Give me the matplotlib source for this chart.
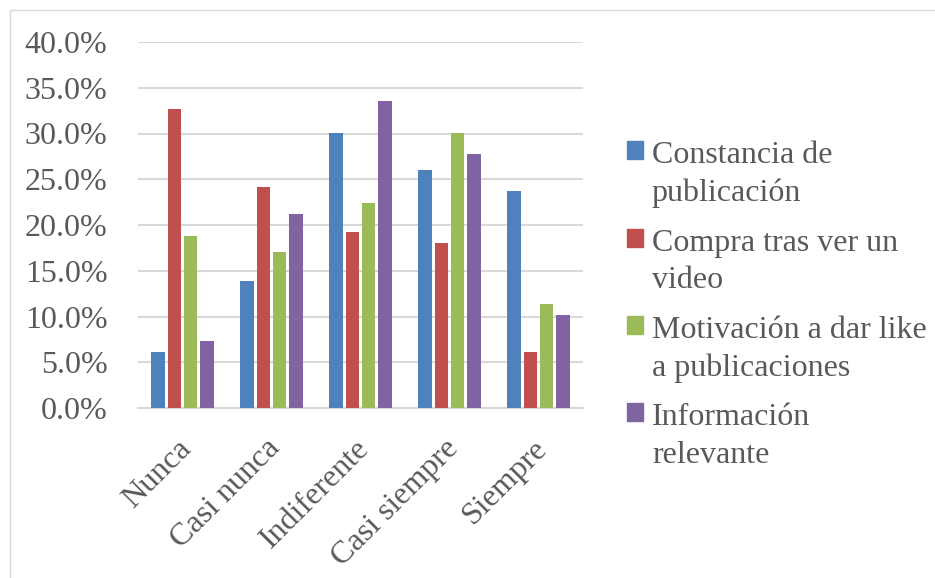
import numpy as np
import matplotlib.pyplot as plt
from matplotlib.patches import Patch, Rectangle
from matplotlib.transforms import ScaledTranslation

plt.rcParams['font.family'] = ['Liberation Serif', 'DejaVu Serif']

categorias = ['Nunca', 'Casi nunca', 'Indiferente', 'Casi siempre', 'Siempre']
series = ['Constancia de\npublicación',
          'Compra tras ver un\nvideo',
          'Motivación a dar like\na publicaciones',
          'Información\nrelevante']
constancia = [6.1, 13.9, 30.1, 26.0, 23.7]
compra = [32.7, 24.1, 19.2, 18.0, 6.1]
motivacion = [18.8, 17.1, 22.4, 30.1, 11.4]
informacion = [7.3, 21.2, 33.5, 27.8, 10.2]
valores = [constancia, compra, motivacion, informacion]
colores = ['#4F81BD', '#C0504D', '#9BBB59', '#8064A2']

gris = '#595959'
fs = 23
fig = plt.figure(figsize=(9.35, 5.78), dpi=100)
ax = fig.add_axes([138 / 935, 1 - 408 / 578, 445 / 935, 366 / 578])

x = np.arange(len(categorias))
paso = 0.183
for i, (vals, col) in enumerate(zip(valores, colores)):
    ax.bar(x + (i - 1.5) * paso, vals, width=paso * 0.82, color=col, zorder=3)

ax.set_xlim(-0.5, len(categorias) - 0.5)
ax.set_ylim(0, 40)
ax.set_yticks(np.arange(0, 41, 5))
ax.set_yticklabels([f'{v:.1f}%' for v in np.arange(0, 41, 5)])
ax.yaxis.grid(True, color='#d9d9d9', linewidth=1.5, zorder=0)
for s in ['top', 'right', 'left']:
    ax.spines[s].set_visible(False)
ax.spines['bottom'].set_color('#d9d9d9')
ax.spines['bottom'].set_linewidth(1.5)
ax.tick_params(length=0, labelsize=fs, colors=gris)
ax.tick_params(axis='y', pad=22)
ax.set_xticks(x)
ax.set_xticklabels(categorias, rotation=45, ha='right', va='top',
                   rotation_mode='anchor')
desplaza = ScaledTranslation(-0.06, -0.21, fig.dpi_scale_trans)
for lab in ax.get_xticklabels():
    lab.set_transform(lab.get_transform() + desplaza)

handles = [Patch(color=c) for c in colores]
leg = fig.legend(handles, series, loc='upper left',
                 bbox_to_anchor=(627 / 935, 1 - 141 / 578),
                 frameon=False, fontsize=fs, labelcolor=gris,
                 handlelength=0.5, handleheight=0.5, handletextpad=0.28,
                 labelspacing=0.63, borderpad=0, borderaxespad=0)
for t in leg.get_texts():
    t.set_linespacing(1.4)
for col in leg._legend_handle_box.get_children():
    for hp in col.get_children():
        hp.align = 'top'

fig.patches.append(Rectangle((10 / 935, -0.1), 1.2, 1 - 10 / 578 + 0.1,
                             transform=fig.transFigure, fill=False,
                             edgecolor='#d9d9d9', linewidth=1))

plt.savefig('out.png', dpi=100)
